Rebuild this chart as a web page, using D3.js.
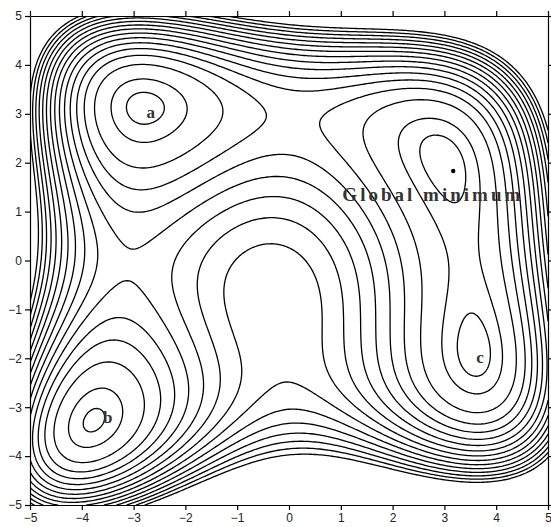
<!DOCTYPE html>
<html>
<head>
<meta charset="utf-8">
<script src="https://cdn.jsdelivr.net/npm/d3@7"></script>
<style>
  body { margin: 0; background: #fff; }
  svg { display: block; }
</style>
</head>
<body>
<div id="chart"></div>
<script>
// axis ticks
var xTicks = [-5, -4, -3, -2, -1, 0, 1, 2, 3, 4, 5];
var yTicks = [-5, -4, -3, -2, -1, 0, 1, 2, 3, 4, 5];

// contour levels
var levels = [6, 18, 42, 64, 84, 104, 124, 144, 164, 184, 204, 224, 244, 264, 284, 304];

// modified Himmelblau surface (penalty pulls the global minimum to one basin)
var penaltyWeight = 0.05;
var penaltyCentre = [3, 2];
var gridN = 241;

// annotations
var minimaLabels = ['a', 'b', 'c'];
var minimaX = [-2.67, -3.50, 3.69];
var minimaY = [2.91, -3.32, -2.10];
var globalDot = [3.17, 1.83];
var globalText = 'Global minimum';
var globalTextPos = [1.03, 1.22];

var width = 551, height = 527;
var margin = {top: 16, right: 2, bottom: 22, left: 30};

var svg = d3.select('#chart').append('svg')
  .attr('width', width)
  .attr('height', height);

var x = d3.scaleLinear().domain([-5, 5]).range([margin.left, width - margin.right - 1]);
var y = d3.scaleLinear().domain([-5, 5]).range([height - margin.bottom, margin.top]);

function f(a, b) {
  var g1 = a * a + b - 11, g2 = a + b * b - 7;
  var dx = a - penaltyCentre[0], dy = b - penaltyCentre[1];
  return g1 * g1 + g2 * g2 + penaltyWeight * (dx * dx + dy * dy);
}

var step = 10 / (gridN - 1);
var values = new Array(gridN * gridN);
for (var j = 0; j < gridN; j++) {
  for (var i = 0; i < gridN; i++) {
    values[j * gridN + i] = f(-5 + i * step, -5 + j * step);
  }
}

var contours = d3.contours().size([gridN, gridN]).thresholds(levels)(values);

var projection = d3.geoTransform({
  point: function(px, py) {
    this.stream.point(x(-5 + (px - 0.5) * step), y(-5 + (py - 0.5) * step));
  }
});
var path = d3.geoPath(projection);

svg.append('clipPath').attr('id', 'plotclip')
  .append('rect')
  .attr('x', x(-5)).attr('y', y(5))
  .attr('width', x(5) - x(-5)).attr('height', y(-5) - y(5));

svg.append('g')
  .attr('clip-path', 'url(#plotclip)')
  .selectAll('path')
  .data(contours)
  .enter().append('path')
  .attr('d', path)
  .attr('fill', 'none')
  .attr('stroke', '#000')
  .attr('stroke-width', 1.3)
  .attr('stroke-linejoin', 'round');

// axes (box with outward ticks)
var tickStyle = function(g) {
  g.selectAll('.domain').attr('stroke', '#000').attr('stroke-width', 1.2);
  g.selectAll('.tick line').attr('stroke', '#000').attr('stroke-width', 1.2);
  g.selectAll('.tick text')
    .attr('fill', '#222')
    .attr('font-family', '"Liberation Sans", Arial, sans-serif')
    .attr('font-size', 12);
};

svg.append('g')
  .attr('transform', 'translate(0,' + y(-5) + ')')
  .call(d3.axisBottom(x).tickValues(xTicks).tickSize(5).tickSizeOuter(0).tickPadding(3))
  .call(tickStyle);

svg.append('g')
  .attr('transform', 'translate(' + x(-5) + ',0)')
  .call(d3.axisLeft(y).tickValues(yTicks).tickSize(5).tickSizeOuter(0).tickPadding(3))
  .call(tickStyle);

svg.append('g')
  .attr('transform', 'translate(0,' + y(5) + ')')
  .call(d3.axisTop(x).tickValues(xTicks).tickSize(5).tickSizeOuter(0).tickFormat(''))
  .call(tickStyle);

svg.append('g')
  .attr('transform', 'translate(' + x(5) + ',0)')
  .call(d3.axisRight(y).tickValues(yTicks).tickSize(5).tickSizeOuter(0).tickFormat(''))
  .call(tickStyle);

// minima labels
svg.append('g')
  .selectAll('text')
  .data(minimaLabels)
  .enter().append('text')
  .attr('x', function(d, i) { return x(minimaX[i]); })
  .attr('y', function(d, i) { return y(minimaY[i]); })
  .attr('text-anchor', 'middle')
  .attr('font-family', '"Liberation Serif", "Times New Roman", serif')
  .attr('font-weight', 'bold')
  .attr('font-size', 17)
  .attr('fill', '#333')
  .text(function(d) { return d; });

svg.append('circle')
  .attr('cx', x(globalDot[0]))
  .attr('cy', y(globalDot[1]))
  .attr('r', 2.2)
  .attr('fill', '#000');

svg.append('text')
  .attr('x', x(globalTextPos[0]))
  .attr('y', y(globalTextPos[1]))
  .attr('font-family', '"Liberation Serif", "Times New Roman", serif')
  .attr('font-weight', 'bold')
  .attr('font-size', 19)
  .attr('fill', '#333')
  .attr('textLength', 178)
  .attr('lengthAdjust', 'spacing')
  .text(globalText);
</script>
</body>
</html>
